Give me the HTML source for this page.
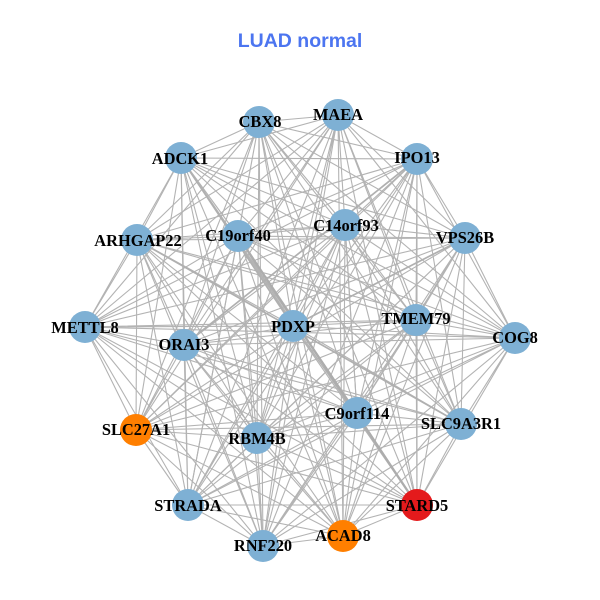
<!DOCTYPE html>
<html><head><meta charset="utf-8"><style>
html,body{margin:0;padding:0;background:#fff}
svg{display:block}
.n{font:bold 16.4px "Liberation Serif",serif;fill:#000;text-anchor:middle}
</style></head><body>
<svg width="600" height="600" viewBox="0 0 600 600" xmlns="http://www.w3.org/2000/svg">
<rect width="600" height="600" fill="#fff"/>
<text x="300" y="47" text-anchor="middle" style="font:bold 19.5px 'Liberation Sans',sans-serif" fill="#4c75f0">LUAD normal</text>
<g fill="none" stroke="#b3b3b3" stroke-width="1.1">
<path d="M259 122L338 115 259 122 417 159 259 122 465 238 259 122 515 338 259 122 461 424 259 122 417 505 259 122 343 536 259 122 263 546 259 122 188 505 259 122 136 430 259 122 85 327 259 122 137 240 259 122 181 158 259 122 238 236 259 122 345 225 259 122 416 320 259 122 357 413 259 122 257 438 259 122 184 345 259 122 293 326"/>
<path d="M338 115L417 159 338 115 465 238 338 115 515 338 338 115 461 424 338 115 417 505 338 115 343 536 338 115 263 546 338 115 188 505 338 115 136 430 338 115 85 327 338 115 137 240 338 115 181 158 338 115 238 236 338 115 345 225 338 115 416 320 338 115 357 413 338 115 257 438 338 115 184 345 338 115 293 326"/>
<path d="M417 159L465 238 417 159 515 338 417 159 461 424 417 159 417 505 417 159 343 536 417 159 263 546 417 159 188 505 417 159 136 430 417 159 85 327 417 159 137 240 417 159 181 158 417 159 238 236 417 159 345 225 417 159 416 320 417 159 357 413 417 159 257 438 417 159 184 345 417 159 293 326"/>
<path d="M465 238L515 338 465 238 461 424 465 238 417 505 465 238 343 536 465 238 263 546 465 238 188 505 465 238 136 430 465 238 85 327 465 238 137 240 465 238 181 158 465 238 238 236 465 238 345 225 465 238 416 320 465 238 357 413 465 238 257 438 465 238 184 345 465 238 293 326"/>
<path d="M515 338L461 424 515 338 417 505 515 338 343 536 515 338 263 546 515 338 188 505 515 338 136 430 515 338 85 327 515 338 137 240 515 338 181 158 515 338 238 236 515 338 345 225 515 338 416 320 515 338 357 413 515 338 257 438 515 338 184 345 515 338 293 326"/>
<path d="M461 424L417 505 461 424 343 536 461 424 263 546 461 424 188 505 461 424 136 430 461 424 85 327 461 424 137 240 461 424 181 158 461 424 238 236 461 424 345 225 461 424 416 320 461 424 357 413 461 424 257 438 461 424 184 345 461 424 293 326"/>
<path d="M417 505L343 536 417 505 263 546 417 505 188 505 417 505 136 430 417 505 85 327 417 505 137 240 417 505 181 158 417 505 345 225 417 505 416 320 417 505 357 413 417 505 257 438 417 505 184 345 417 505 293 326"/>
<path d="M343 536L263 546 343 536 188 505 343 536 136 430 343 536 85 327 343 536 137 240 343 536 181 158 343 536 238 236 343 536 345 225 343 536 416 320 343 536 357 413 343 536 257 438 343 536 184 345 343 536 293 326"/>
<path d="M263 546L188 505 263 546 136 430 263 546 85 327 263 546 137 240 263 546 181 158 263 546 238 236 263 546 345 225 263 546 416 320 263 546 357 413 263 546 257 438 263 546 184 345 263 546 293 326"/>
<path d="M188 505L136 430 188 505 85 327 188 505 137 240 188 505 181 158 188 505 238 236 188 505 345 225 188 505 416 320 188 505 357 413 188 505 257 438 188 505 184 345 188 505 293 326"/>
<path d="M136 430L85 327 136 430 137 240 136 430 181 158 136 430 238 236 136 430 345 225 136 430 416 320 136 430 357 413 136 430 257 438 136 430 184 345 136 430 293 326"/>
<path d="M85 327L137 240 85 327 181 158 85 327 238 236 85 327 345 225 85 327 416 320 85 327 357 413 85 327 257 438 85 327 184 345 85 327 293 326"/>
<path d="M137 240L181 158 137 240 238 236 137 240 345 225 137 240 416 320 137 240 357 413 137 240 257 438 137 240 184 345 137 240 293 326"/>
<path d="M181 158L238 236 181 158 345 225 181 158 416 320 181 158 357 413 181 158 257 438 181 158 184 345 181 158 293 326"/>
<path d="M238 236L345 225 238 236 416 320 238 236 357 413 238 236 257 438 238 236 184 345 238 236 293 326"/>
<path d="M345 225L416 320 345 225 357 413 345 225 257 438 345 225 184 345 345 225 293 326"/>
<path d="M416 320L357 413 416 320 257 438 416 320 184 345 416 320 293 326"/>
<path d="M357 413L257 438 357 413 184 345 357 413 293 326"/>
<path d="M257 438L184 345 257 438 293 326"/>
<path d="M184 345L293 326"/>
</g>
<path d="M238 236L417 505" fill="none" stroke="#adadad" stroke-width="2.3"/>
<g fill="none" stroke="#b0b0b0" stroke-width="1.7">
<path d="M181 158L293 326"/>
<path d="M137 240L461 424"/>
<path d="M465 238L293 326"/>
<path d="M417 159L184 345"/>
</g>
<g fill="#7eb0d4">
<circle cx="259" cy="122" r="16"/><circle cx="338" cy="115" r="16"/><circle cx="417" cy="159" r="16"/><circle cx="465" cy="238" r="16"/><circle cx="515" cy="338" r="16"/><circle cx="461" cy="424" r="16"/>
<circle cx="263" cy="546" r="16"/><circle cx="188" cy="505" r="16"/><circle cx="85" cy="327" r="16"/><circle cx="137" cy="240" r="16"/><circle cx="181" cy="158" r="16"/><circle cx="238" cy="236" r="16"/>
<circle cx="345" cy="225" r="16"/><circle cx="416" cy="320" r="16"/><circle cx="357" cy="413" r="16"/><circle cx="257" cy="438" r="16"/><circle cx="184" cy="345" r="16"/><circle cx="293" cy="326" r="16"/>
</g>
<circle cx="417" cy="505" r="16" fill="#e41a1c"/>
<circle cx="343" cy="536" r="16" fill="#ff7f00"/>
<circle cx="136" cy="430" r="16" fill="#ff7f00"/>
<g>
<text class="n" x="260" y="127">CBX8</text>
<text class="n" x="338" y="120">MAEA</text>
<text class="n" x="417" y="163">IPO13</text>
<text class="n" x="465" y="243">VPS26B</text>
<text class="n" x="515" y="343">COG8</text>
<text class="n" x="461" y="429">SLC9A3R1</text>
<text class="n" x="417" y="511">STARD5</text>
<text class="n" x="343" y="541">ACAD8</text>
<text class="n" x="263" y="551">RNF220</text>
<text class="n" x="188" y="511">STRADA</text>
<text class="n" x="136" y="435">SLC27A1</text>
<text class="n" x="85" y="333">METTL8</text>
<text class="n" x="138" y="246">ARHGAP22</text>
<text class="n" x="180" y="164">ADCK1</text>
<text class="n" x="238" y="241">C19orf40</text>
<text class="n" x="346" y="231">C14orf93</text>
<text class="n" x="416" y="324">TMEM79</text>
<text class="n" x="357" y="419">C9orf114</text>
<text class="n" x="257" y="444">RBM4B</text>
<text class="n" x="184" y="350">ORAI3</text>
<text class="n" x="293" y="332">PDXP</text>
</g>
</svg>
</body></html>
